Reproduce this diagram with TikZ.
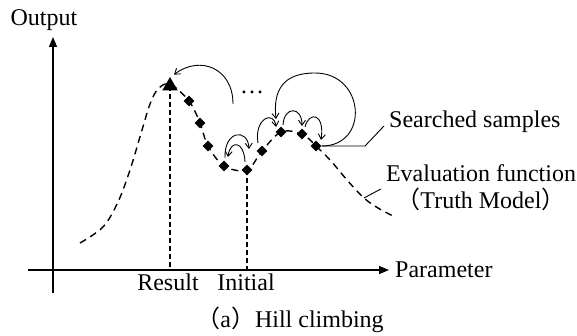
\documentclass[tikz,border=0pt]{standalone}
\usepackage{fontspec}
\setmainfont{Liberation Serif}
\newfontfamily\cjk{Noto Sans CJK JP}
\usetikzlibrary{arrows.meta,shapes.geometric,calc}
\begin{document}
\begin{tikzpicture}[x=1pt,y=-1pt,
  lbl/.style={font=\fontsize{24}{27}\selectfont, inner sep=0pt},
  sample/.style={diamond, fill=black, inner sep=0pt, minimum size=11pt},
  best/.style={regular polygon, regular polygon sides=3, fill=black, inner sep=0pt, minimum size=18pt},
  hop/.style={-{Straight Barb[length=5pt,width=7pt]}, line width=0.9pt},
  curve/.style={dash pattern=on 7pt off 5pt, line width=1.4pt},
  guide/.style={dash pattern=on 5pt off 3pt, line width=1.3pt},
  axis/.style={-{Triangle[length=10pt,width=8pt]}, line width=1.3pt},
  leader/.style={line width=0.9pt}]
\useasboundingbox (0,0) rectangle (577,336);

% axes
\coordinate (ybot) at (53,293);
\coordinate (ytop) at (53,37);
\coordinate (xl) at (28,270);
\coordinate (xr) at (389,270);
\draw[axis] (ybot) -- (ytop);
\draw[axis] (xl) -- (xr);

% samples
\coordinate (res) at (170,86);
\coordinate (d1) at (189,101);
\coordinate (d2) at (200,123);
\coordinate (d3) at (208,146);
\coordinate (d4) at (224,166);
\coordinate (d5) at (247,170);
\coordinate (d6) at (262,151);
\coordinate (d7) at (281,132);
\coordinate (d8) at (302,134);
\coordinate (d9) at (316,146);
\coordinate (ev) at (364,198);

% guides
\draw[guide] (res) -- (res |- xl);
\draw[guide] (d5) -- (d5 |- xl);

% evaluation function
\draw[curve] plot[smooth, tension=0.55] coordinates {(80,243) (103,227) (118,202) (130,170) (142,130) (150,104) (158,89) (170,84) (d1) (d2) (d3) (d4) (d5) (d6) (d7) (d8) (d9) (331,161) (347,180) (ev) (378,208) (393,216)};

\node[best] (r) at (res) {};
\foreach \n in {1,...,9} {\node[sample] (s\n) at (d\n) {};}

% labels
\node[lbl] (output) at (44,20) {Output};
\node[lbl] (result) at (168,282) {Result};
\node[lbl] (initial) at (246,282) {Initial};
\node[lbl, anchor=west] (param) at (395,270) {Parameter};
\node[lbl, anchor=west] (searched) at (389,122) {Searched samples};
\node[lbl, align=center] (evalf) at (481,188) {Evaluation function\\{\cjk （}Truth Model{\cjk ）}};
\node[lbl] (caption) at (290,320) {{\cjk （}a{\cjk ）}Hill climbing};
\node[lbl, anchor=base] (dots) at (252,94) {…};

% leaders
\draw[leader] (s9.east) -- (365,146) -- ($(searched.west)+(-5,4)$);
\draw[leader] (ev) -- ($(evalf.west)+(-5,1)$);

% hops
\coordinate (hs) at (233,104);
\draw[hop] (hs) .. controls (233,68) and (200,55) .. ($(r.north)+(4,-2)$);
\draw[hop] (s9.east) .. controls (370,146) and (365,73) .. (315,73) .. controls (283,73) and (273,90) .. ($(s7)+(-5,-13)$);
\draw[hop] ($(s8)+(3,-7)$) .. controls (309,111) and (325,113) .. ($(s9)+(5,-6)$);
\draw[hop] ($(s7)+(2,-7)$) .. controls (284,106) and (302,106) .. ($(s8)+(0,-8)$);
\draw[hop] ($(s6)+(-4,-8)$) .. controls (254,118) and (274,110) .. ($(s7)+(-5,-5)$);
\draw[hop] ($(s4)+(1,-8)$) .. controls (224,130) and (248,128) .. ($(s5)+(2,-21)$);
\draw[hop] ($(s5)+(-2,-8)$) .. controls (244,140) and (230,140) .. ($(s4)+(4,-9)$);
\end{tikzpicture}
\end{document}
